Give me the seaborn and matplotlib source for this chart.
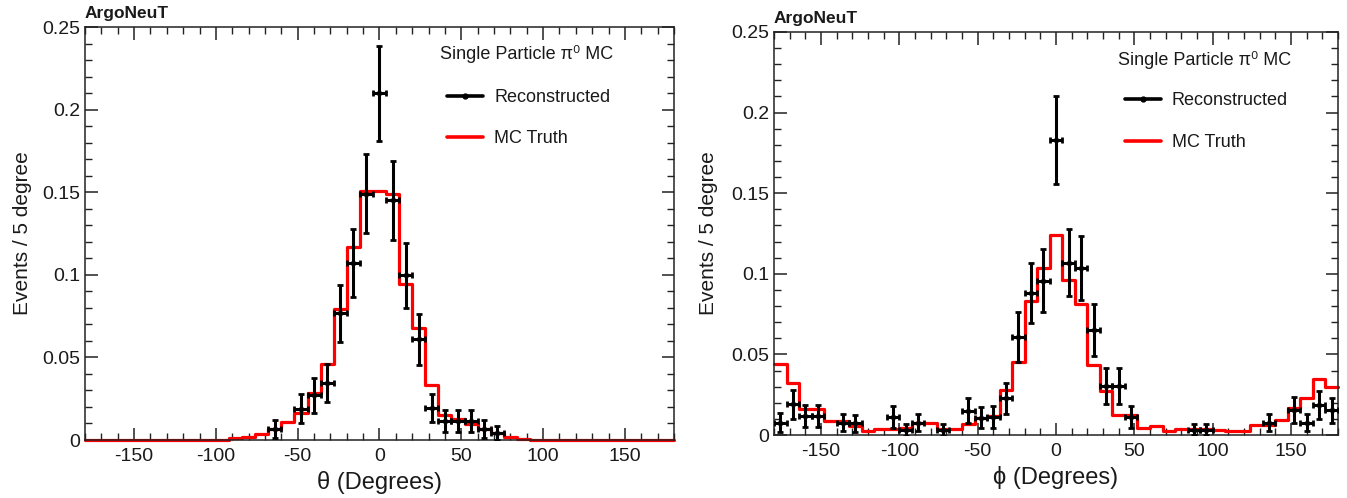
import numpy as np
import pandas as pd
import matplotlib
matplotlib.use("Agg")
import matplotlib.pyplot as plt
import seaborn as sns
from matplotlib.lines import Line2D
from matplotlib.ticker import MultipleLocator, FixedLocator, FixedFormatter

# ---------------- data ----------------
bin_edges = list(range(-180, 181, 8))          # 45 bins of 8 degrees
bin_centers = [(a + b) / 2 for a, b in zip(bin_edges[:-1], bin_edges[1:])]

theta_truth = [
    0, 0, 0, 0, 0, 0, 0, 0, 0, 0,
    0.0003, 0.001, 0.002, 0.0035, 0.0065, 0.0108, 0.0165, 0.0285, 0.046, 0.0795, 0.117, 0.1505,
    0.1505,
    0.149, 0.0945, 0.068, 0.0335, 0.015, 0.0125, 0.0095, 0.0065, 0.0045, 0.002, 0.0008, 0.0,
    0, 0, 0, 0, 0, 0, 0, 0, 0, 0,
]
theta_reco_x = [-64, -48, -40, -32, -24, -16, -8, 0, 8, 16, 24, 32, 40, 48, 56, 64, 72]
theta_reco_y = [0.0068, 0.019, 0.027, 0.0345, 0.0766, 0.107, 0.149, 0.2098, 0.145, 0.0996,
                0.061, 0.0194, 0.0114, 0.0114, 0.0114, 0.0068, 0.0042]
theta_reco_err = [0.0054, 0.0087, 0.0105, 0.0115, 0.0175, 0.0205, 0.024, 0.0287, 0.0238, 0.0197,
                  0.0155, 0.0087, 0.0068, 0.0068, 0.0068, 0.0054, 0.0042]

phi_truth = [
    0.044, 0.032, 0.016, 0.016, 0.0088, 0.0088, 0.0056, 0.0025, 0.004, 0.004,
    0.0045, 0.0075, 0.0075, 0.004, 0.004, 0.007, 0.0105, 0.0115, 0.028, 0.045,
    0.083, 0.1035, 0.124, 0.096, 0.081, 0.0435, 0.027, 0.0125, 0.0125, 0.0042,
    0.0055, 0.0027, 0.0035, 0.0035, 0.0035, 0.003, 0.0027, 0.0027, 0.006, 0.0065,
    0.009, 0.017, 0.023, 0.035, 0.0295,
]
phi_reco_x = [-176, -168, -160, -152, -136, -128, -104, -96, -88, -72, -56, -48, -40, -32, -24,
              -16, -8, 0, 8, 16, 24, 32, 40, 48, 88, 96, 136, 152, 160, 168, 176]
phi_reco_y = [0.0077, 0.019, 0.0116, 0.0116, 0.0077, 0.0073, 0.0114, 0.0031, 0.0077, 0.0032,
              0.015, 0.0108, 0.0112, 0.0228, 0.061, 0.088, 0.0958, 0.183, 0.107, 0.1035,
              0.065, 0.0304, 0.0304, 0.0112, 0.0033, 0.0033, 0.0077, 0.0155, 0.0077, 0.0188,
              0.0153]
phi_reco_err = [0.0058, 0.0088, 0.0068, 0.0068, 0.0055, 0.0054, 0.0068, 0.0035, 0.0055, 0.0036,
                0.0078, 0.0066, 0.0067, 0.0095, 0.0155, 0.0187, 0.0195, 0.027, 0.0206, 0.02,
                0.0163, 0.011, 0.011, 0.0068, 0.0036, 0.0036, 0.0055, 0.0078, 0.0055, 0.0087,
                0.0078]

y_ticks = [0, 0.05, 0.1, 0.15, 0.2, 0.25]
y_tick_labels = ["0", "0.05", "0.1", "0.15", "0.2", "0.25"]
x_ticks = [-150, -100, -50, 0, 50, 100, 150]
x_tick_labels = ["-150", "-100", "-50", "0", "50", "100", "150"]

header_text = "Single Particle \u03c0\u2070 MC"
label_reco = "Reconstructed"
label_truth = "MC Truth"
experiment = "ArgoNeuT"
ylabel_text = "Events / 5 degree"
xlabels = ["\u03b8 (Degrees)", "\u03d5 (Degrees)"]

# ---------------- style ----------------
sns.set_style("ticks")
plt.rcParams["font.family"] = ["Liberation Sans", "DejaVu Sans"]
plt.rcParams["axes.unicode_minus"] = False

fig = plt.figure(figsize=(13.47, 4.98), dpi=100)
W, H = 1347, 498
frames = [(85, 674, 27, 440), (774, 1338, 32, 435)]
axes = []
for (x0, x1, yt, yb) in frames:
    axes.append(fig.add_axes([x0 / W, 1 - yb / H, (x1 - x0) / W, (yb - yt) / H]))

panels = [
    (theta_truth, theta_reco_x, theta_reco_y, theta_reco_err),
    (phi_truth, phi_reco_x, phi_reco_y, phi_reco_err),
]

text_col = "#1a1a1a"
for i, (ax, (truth, rx, ry, rerr)) in enumerate(zip(axes, panels)):
    df = pd.DataFrame({"angle": bin_centers, "w": truth})
    sns.histplot(data=df, x="angle", weights="w", bins=bin_edges, element="step", fill=False,
                 color="#ff0000", linewidth=2.3, ax=ax, zorder=2)
    for ln in ax.lines:
        ln.set_clip_on(False)
    for p in ax.patches:
        p.set_clip_on(False)
    ax.errorbar(rx, ry, xerr=4, yerr=rerr, fmt="o", ms=3, color="black",
                elinewidth=2.2, capsize=2.2, capthick=2.0, zorder=3)

    ax.set_xlim(-180, 180)
    ax.set_ylim(0, 0.25)
    ax.xaxis.set_major_locator(FixedLocator(x_ticks))
    ax.xaxis.set_major_formatter(FixedFormatter(x_tick_labels))
    ax.xaxis.set_minor_locator(MultipleLocator(10))
    ax.yaxis.set_major_locator(FixedLocator(y_ticks))
    ax.yaxis.set_major_formatter(FixedFormatter(y_tick_labels))
    ax.yaxis.set_minor_locator(MultipleLocator(0.01))
    ax.tick_params(which="both", direction="in", top=True, right=True, colors="#222222",
                   labelcolor=text_col, labelsize=14)
    ax.tick_params(which="major", length=9, width=1.1)
    ax.tick_params(which="minor", length=5, width=1.0)
    ax.tick_params(axis="x", pad=6)
    for sp in ax.spines.values():
        sp.set_linewidth(1.1)
        sp.set_color("#222222")

    ax.set_xlabel(xlabels[i], fontsize=17, color=text_col, labelpad=4)
    ax.set_ylabel(ylabel_text, fontsize=15, color=text_col)
    ax.yaxis.set_label_coords(-0.09 if i == 0 else -0.099, 0.5)

    ax.text(0.0, 1.015, experiment, transform=ax.transAxes, fontsize=12.5,
            fontweight="bold", ha="left", va="bottom", color=text_col)

    hx = 0.603 if i == 0 else 0.61
    hy = 0.935 if i == 0 else 0.93
    ax.text(hx, hy, header_text, transform=ax.transAxes, fontsize=13,
            ha="left", va="center", color=text_col)
    handles = [
        Line2D([], [], color="black", lw=2.6, marker="o", ms=3.5),
        Line2D([], [], color="#ff0000", lw=2.6),
    ]
    ax.legend(handles, [label_reco, label_truth], loc="upper left",
              bbox_to_anchor=(hx + 0.012, 0.85), frameon=False, fontsize=13,
              handlelength=2.0, handletextpad=0.6, labelspacing=1.35,
              borderpad=0, borderaxespad=0, labelcolor=text_col)

fig.savefig("out.png", dpi=100)
